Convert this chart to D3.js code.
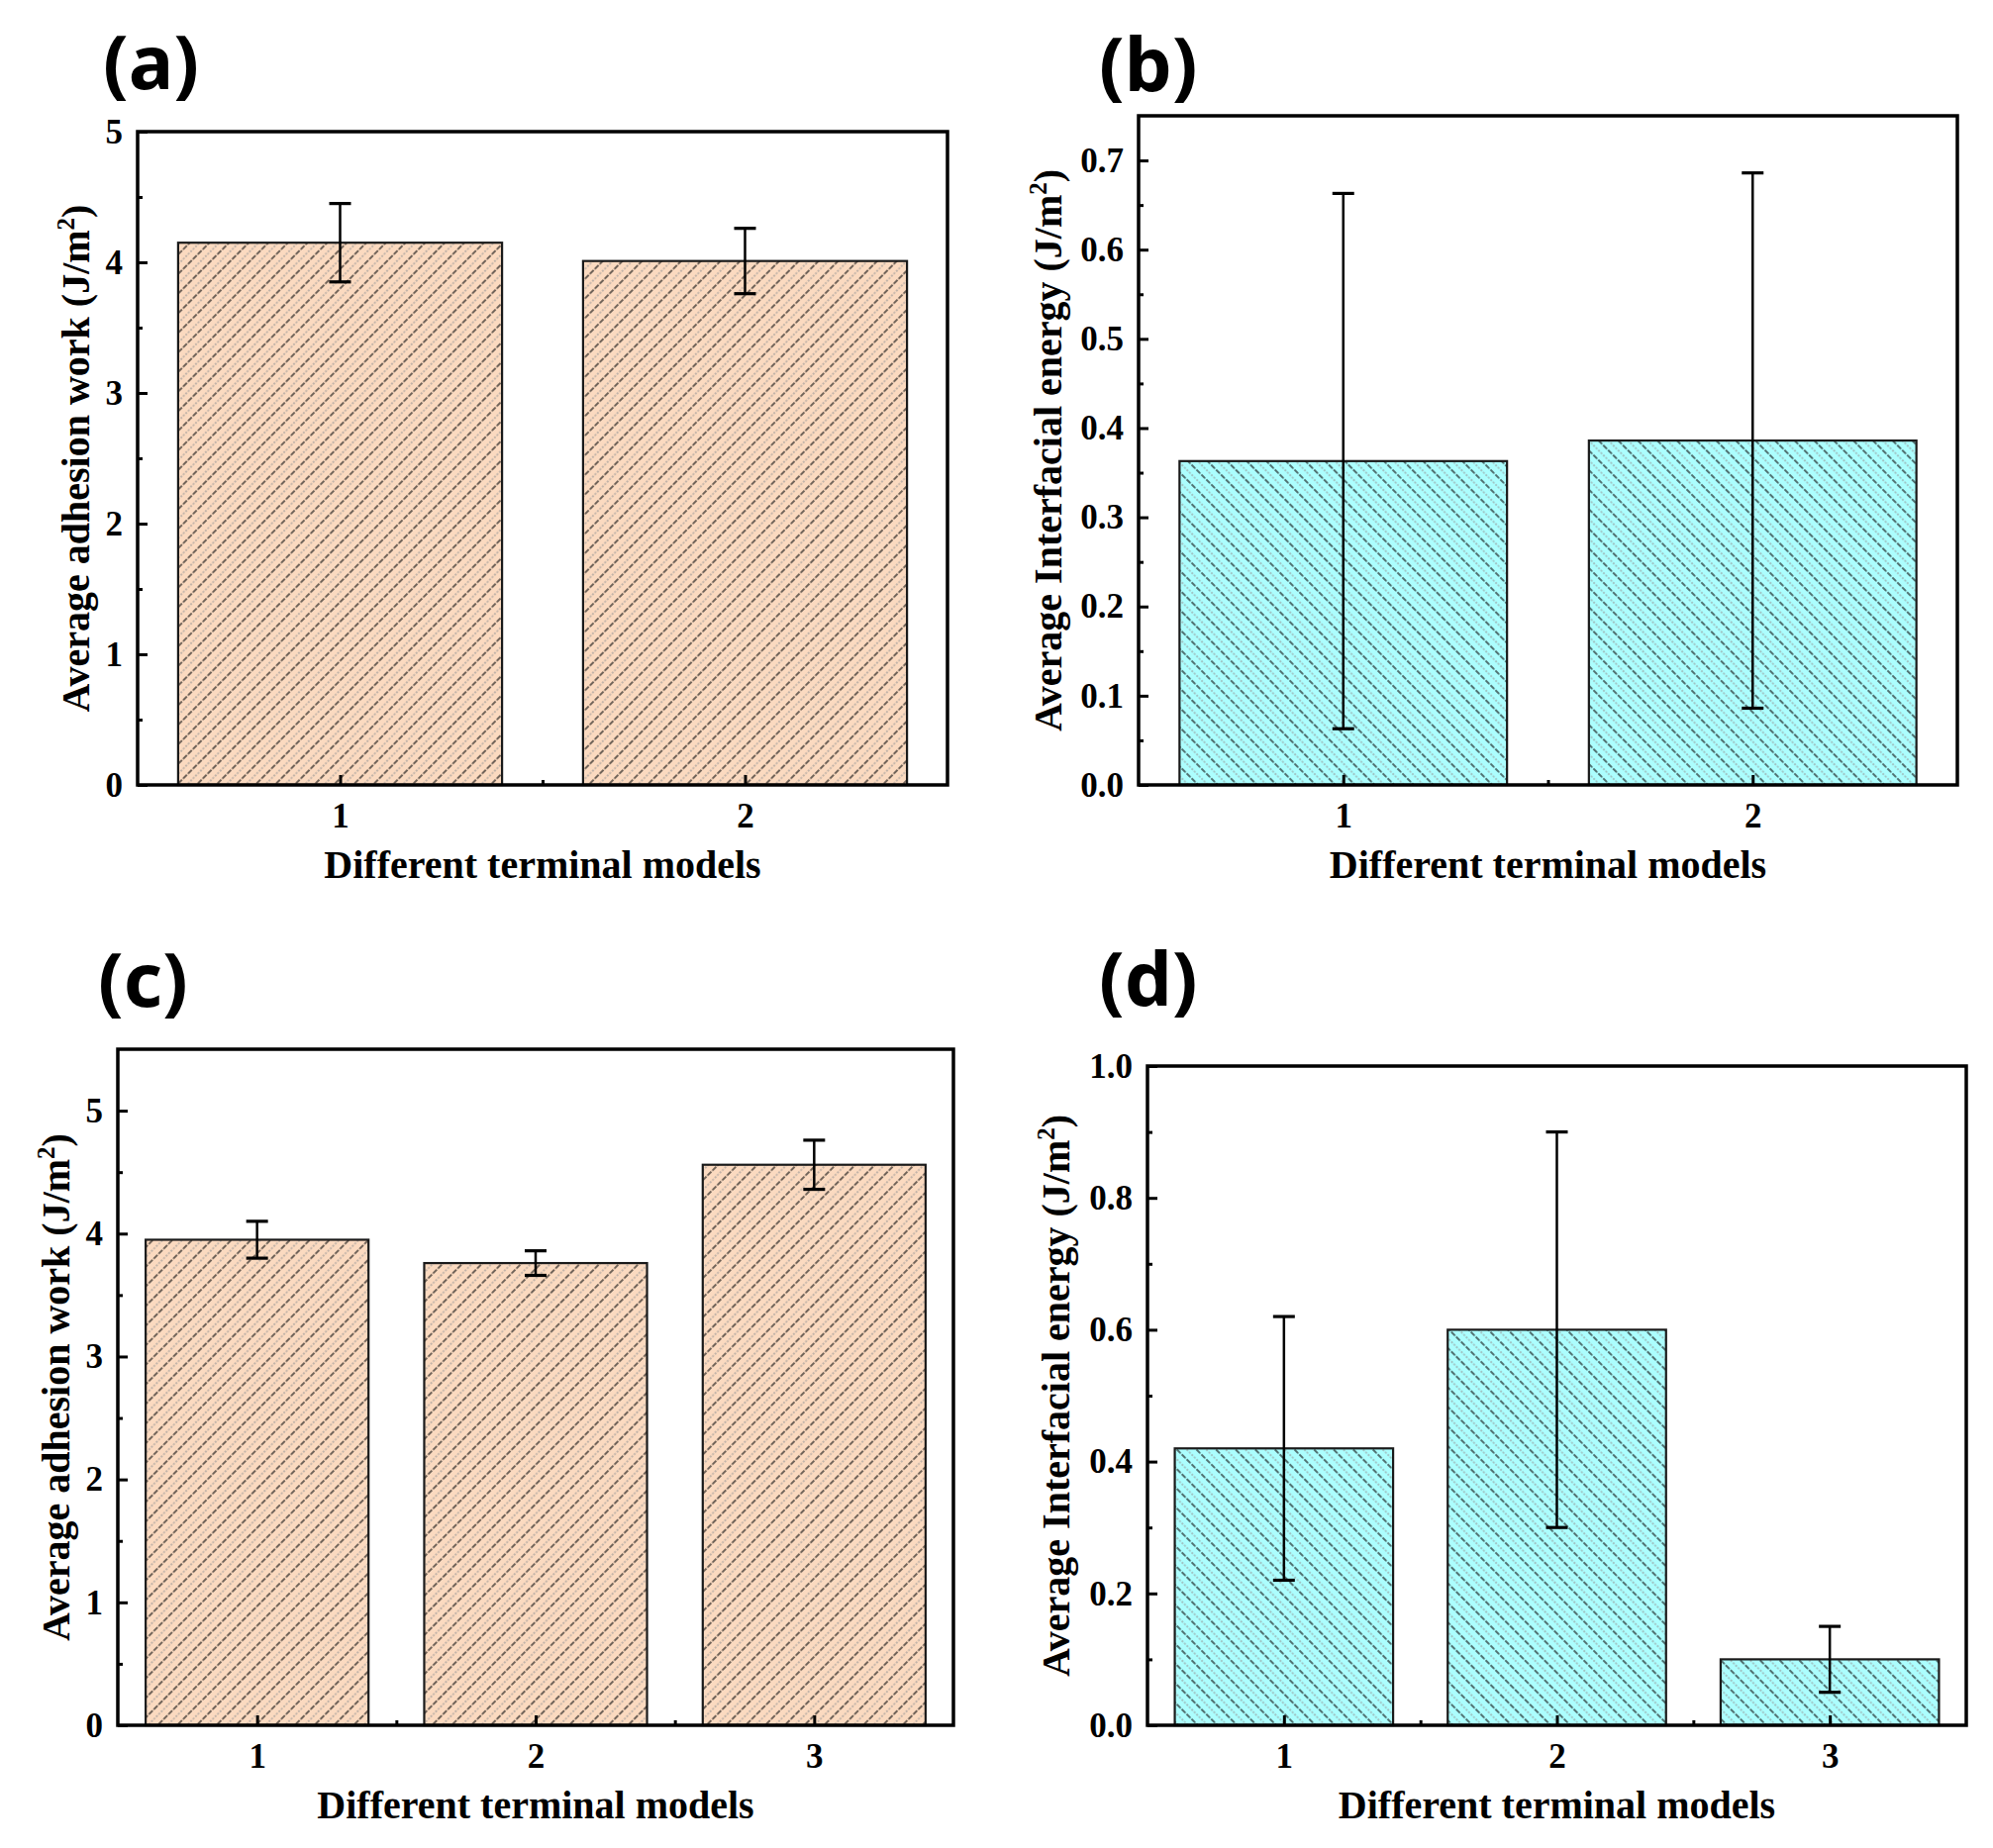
<!DOCTYPE html>
<html>
<head>
<meta charset="utf-8">
<script src="https://cdn.jsdelivr.net/npm/d3@7"></script>
<style>
  body { margin: 0; background: #fff; }
  svg { display: block; background: #fff; }
  .tick text { font-family: "Liberation Serif", "Times New Roman", serif; font-weight: bold; font-size: 35px; fill: #000; }
  .tick line { stroke: #000; stroke-width: 3px; }
  .axis-title { font-family: "Liberation Serif", "Times New Roman", serif; font-weight: bold; font-size: 40px; fill: #000; }
  .panel-label { font-family: "Noto Sans", sans-serif; font-weight: bold; font-size: 76px; fill: #000; }
</style>
</head>
<body>
<div id="chart"></div>
<script>
// categories
var models2 = [1, 2],
    models3 = [1, 2, 3];

// series values (J/m^2) and their error bars
var adhesionA = [4.15, 4.01],
    adhesionErrA = [0.30, 0.25];
var energyB = [0.363, 0.386],
    energyErrB = [0.30, 0.30];
var adhesionC = [3.95, 3.76, 4.56],
    adhesionErrC = [0.15, 0.10, 0.20];
var energyD = [0.42, 0.60, 0.10],
    energyErrD = [0.20, 0.30, 0.05];

// tick values
var ticksWork = [0, 1, 2, 3, 4, 5],
    minorWork = [0.5, 1.5, 2.5, 3.5, 4.5],
    ticksEnergyB = [0, 0.1, 0.2, 0.3, 0.4, 0.5, 0.6, 0.7],
    minorEnergyB = [0.05, 0.15, 0.25, 0.35, 0.45, 0.55, 0.65],
    ticksEnergyD = [0, 0.2, 0.4, 0.6, 0.8, 1.0],
    minorEnergyD = [0.1, 0.3, 0.5, 0.7, 0.9],
    minorX2 = [1.5],
    minorX3 = [1.5, 2.5];

var xTitle = "Different terminal models",
    workTitle = "Average adhesion work (J/m",
    energyTitle = "Average Interfacial energy (J/m";

var width = 2013, height = 1867;

var svg = d3.select('#chart').append('svg')
    .attr('width', width)
    .attr('height', height);

var defs = svg.append('defs');

function hatch(id, angle) {
  var pat = defs.append('pattern')
      .attr('id', id)
      .attr('patternUnits', 'userSpaceOnUse')
      .attr('width', 14)
      .attr('height', 14)
      .attr('patternTransform', 'rotate(' + angle + ')');
  pat.append('line')
      .attr('x1', 1).attr('x2', 1).attr('y1', 0).attr('y2', 14)
      .attr('stroke', '#151515').attr('stroke-width', 1.2)
      .attr('stroke-dasharray', '5.5 1.5');
  pat.append('line')
      .attr('x1', 8).attr('x2', 8).attr('y1', 0).attr('y2', 14)
      .attr('stroke', '#959595').attr('stroke-width', 1.1)
      .attr('stroke-dasharray', '2 1.5');
}
hatch('hatchOrange', 45);
hatch('hatchCyan', -45);

var panels = [
  {label: '(a)', lx: 104, ly: 90, models: models2, values: adhesionA, errors: adhesionErrA,
   yMax: 5, yTicks: ticksWork, yMinor: minorWork, xMinor: minorX2, fmt: d3.format('d'),
   left: 139, right: 957, top: 133, bottom: 793, titleX: 90, yTitle: workTitle,
   fill: '#fbdac0', hatch: 'hatchOrange'},
  {label: '(b)', lx: 1110, ly: 92, models: models2, values: energyB, errors: energyErrB,
   yMax: 0.75, yTicks: ticksEnergyB, yMinor: minorEnergyB, xMinor: minorX2, fmt: d3.format('.1f'),
   left: 1150, right: 1977, top: 117, bottom: 793, titleX: 1072, yTitle: energyTitle,
   fill: '#acfefe', hatch: 'hatchCyan'},
  {label: '(c)', lx: 99, ly: 1017, models: models3, values: adhesionC, errors: adhesionErrC,
   yMax: 5.5, yTicks: ticksWork, yMinor: minorWork, xMinor: minorX3, fmt: d3.format('d'),
   left: 119, right: 963, top: 1060, bottom: 1743, titleX: 70, yTitle: workTitle,
   fill: '#fbdac0', hatch: 'hatchOrange'},
  {label: '(d)', lx: 1110, ly: 1016, models: models3, values: energyD, errors: energyErrD,
   yMax: 1.0, yTicks: ticksEnergyD, yMinor: minorEnergyD, xMinor: minorX3, fmt: d3.format('.1f'),
   left: 1159, right: 1986, top: 1077, bottom: 1743, titleX: 1080, yTitle: energyTitle,
   fill: '#acfefe', hatch: 'hatchCyan'}
];

function drawPanel(p) {
  var x = d3.scaleLinear()
        .domain([0.5, p.models.length + 0.5])
        .range([p.left, p.right]);
  var y = d3.scaleLinear()
        .domain([0, p.yMax])
        .range([p.bottom, p.top]);

  var barW = (x(2) - x(1)) * 0.8,
      capW = 22;

  var data = p.models.map(function(m, i) {
    return {id: m, value: p.values[i], err: p.errors[i]};
  });

  var g = svg.append('g').attr('class', 'panel');

  // bars: solid fill, then hatch on top
  g.selectAll('.bar')
    .data(data)
    .enter().append('rect')
    .attr('class', 'bar')
    .attr('x', function(d) { return x(d.id) - barW / 2; })
    .attr('y', function(d) { return y(d.value); })
    .attr('width', barW)
    .attr('height', function(d) { return y(0) - y(d.value); })
    .attr('fill', p.fill);

  g.selectAll('.bar-hatch')
    .data(data)
    .enter().append('rect')
    .attr('class', 'bar-hatch')
    .attr('x', function(d) { return x(d.id) - barW / 2; })
    .attr('y', function(d) { return y(d.value); })
    .attr('width', barW)
    .attr('height', function(d) { return y(0) - y(d.value); })
    .attr('fill', 'url(#' + p.hatch + ')')
    .attr('stroke', '#1a1a1a')
    .attr('stroke-width', 2.2);

  // error bars
  var err = g.selectAll('.err')
    .data(data)
    .enter().append('g')
    .attr('class', 'err')
    .attr('stroke', '#000');

  err.append('line')
    .attr('x1', function(d) { return x(d.id); })
    .attr('x2', function(d) { return x(d.id); })
    .attr('y1', function(d) { return y(d.value - d.err); })
    .attr('y2', function(d) { return y(d.value + d.err); })
    .attr('stroke-width', 2.5);

  err.append('line')
    .attr('x1', function(d) { return x(d.id) - capW / 2; })
    .attr('x2', function(d) { return x(d.id) + capW / 2; })
    .attr('y1', function(d) { return y(d.value + d.err); })
    .attr('y2', function(d) { return y(d.value + d.err); })
    .attr('stroke-width', 3.2);

  err.append('line')
    .attr('x1', function(d) { return x(d.id) - capW / 2; })
    .attr('x2', function(d) { return x(d.id) + capW / 2; })
    .attr('y1', function(d) { return y(d.value - d.err); })
    .attr('y2', function(d) { return y(d.value - d.err); })
    .attr('stroke-width', 3.2);

  // axes, ticks inward
  var yAxis = d3.axisLeft(y).tickValues(p.yTicks).tickSize(-10).tickPadding(15).tickFormat(p.fmt);
  var yMinorAxis = d3.axisLeft(y).tickValues(p.yMinor).tickSize(-5).tickFormat('');
  var xAxis = d3.axisBottom(x).tickValues(p.models).tickSize(-10).tickPadding(18).tickFormat(d3.format('d'));
  var xMinorAxis = d3.axisBottom(x).tickValues(p.xMinor).tickSize(-5).tickFormat('');

  g.append('g').attr('transform', 'translate(' + p.left + ',0)').call(yAxis)
    .call(function(a) { a.select('.domain').remove(); });
  g.append('g').attr('transform', 'translate(' + p.left + ',0)').call(yMinorAxis)
    .call(function(a) { a.select('.domain').remove(); });
  g.append('g').attr('transform', 'translate(0,' + p.bottom + ')').call(xAxis)
    .call(function(a) { a.select('.domain').remove(); });
  g.append('g').attr('transform', 'translate(0,' + p.bottom + ')').call(xMinorAxis)
    .call(function(a) { a.select('.domain').remove(); });

  // frame
  g.append('rect')
    .attr('x', p.left)
    .attr('y', p.top)
    .attr('width', p.right - p.left)
    .attr('height', p.bottom - p.top)
    .attr('fill', 'none')
    .attr('stroke', '#000')
    .attr('stroke-width', 3.5);

  // titles
  g.append('text')
    .attr('class', 'axis-title')
    .attr('x', (p.left + p.right) / 2)
    .attr('y', p.bottom + 94)
    .attr('text-anchor', 'middle')
    .text(xTitle);

  var yt = g.append('text')
    .attr('class', 'axis-title')
    .attr('text-anchor', 'middle')
    .attr('transform', 'translate(' + p.titleX + ',' + (p.top + p.bottom) / 2 + ') rotate(-90)');
  yt.append('tspan').text(p.yTitle);
  yt.append('tspan').attr('dy', -15).attr('font-size', 25).text('2');
  yt.append('tspan').attr('dy', 15).text(')');

  g.append('text')
    .attr('class', 'panel-label')
    .attr('x', p.lx)
    .attr('y', p.ly)
    .text(p.label);
}

panels.forEach(drawPanel);
</script>
</body>
</html>
